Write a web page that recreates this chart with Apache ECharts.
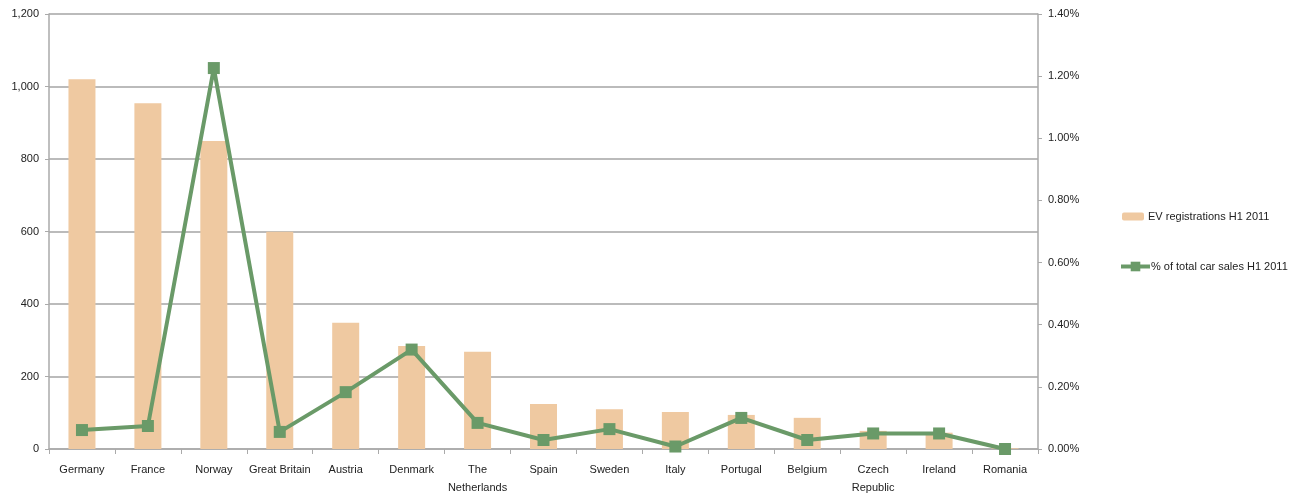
<!DOCTYPE html>
<html><head><meta charset="utf-8">
<script src="https://cdn.jsdelivr.net/npm/echarts@6/dist/echarts.min.js"></script>
<style>html,body{margin:0;padding:0;background:#fff}#c{width:1301px;height:497px}</style>
</head><body><div id="c"></div>
<script>
const categories = ['Germany','France','Norway','Great Britain','Austria','Denmark','The\nNetherlands','Spain','Sweden','Italy','Portugal','Belgium','Czech\nRepublic','Ireland','Romania'];
const evRegistrations = [1020, 954, 850, 599, 348, 284, 268, 124, 110, 102, 94, 86, 50, 45, 2];
const pctOfSales = [0.061, 0.074, 1.226, 0.055, 0.183, 0.32, 0.084, 0.029, 0.064, 0.008, 0.10, 0.029, 0.05, 0.05, 0.0];
const leftTicks = {min:0, max:1200, interval:200};
const rightTicks = {min:0, max:1.4, interval:0.2};

const FONT = "'Liberation Sans Narrow','Liberation Sans',Arial,sans-serif";
const chart = echarts.init(document.getElementById('c'));
chart.setOption({
  animation:false,
  textStyle:{fontFamily:FONT},
  grid:{left:49,right:263,top:14,bottom:48},
  legend:[{
    data:['EV registrations H1 2011'],
    left:1122, top:211, padding:0, itemWidth:22, itemHeight:8, itemGap:4,
    textStyle:{fontFamily:FONT,fontSize:11,color:'#222',padding:[0,0,0,-1]}
  },{
    data:['% of total car sales H1 2011'],
    left:1119, top:261, padding:0, itemWidth:29, itemHeight:12, itemGap:2,
    lineStyle:{width:4},
    textStyle:{fontFamily:FONT,fontSize:11,color:'#222',padding:[0,0,0,-4]}
  }],
  xAxis:{
    type:'category', data:categories,
    axisLine:{lineStyle:{color:'#aaa',width:1.5}},
    axisTick:{show:true,lineStyle:{color:'#aaa'},length:5},
    axisLabel:{color:'#222',fontSize:11,fontFamily:FONT,margin:12,interval:0,lineHeight:18}
  },
  yAxis:[{
    type:'value', min:leftTicks.min, max:leftTicks.max, interval:leftTicks.interval,
    axisLine:{show:true,lineStyle:{color:'#aaa',width:1.5}},
    axisTick:{show:true,lineStyle:{color:'#aaa'},length:4},
    splitLine:{lineStyle:{color:'#bbb',width:2}},
    axisLabel:{color:'#222',fontSize:11,fontFamily:FONT,margin:10,
      formatter:v=>v.toLocaleString('en-US')}
  },{
    type:'value', min:rightTicks.min, max:rightTicks.max, interval:rightTicks.interval,
    position:'right',
    axisLine:{show:true,lineStyle:{color:'#aaa',width:1.5}},
    axisTick:{show:true,lineStyle:{color:'#aaa'},length:4},
    splitLine:{show:false},
    axisLabel:{color:'#222',fontSize:11,fontFamily:FONT,margin:10,
      formatter:v=>v.toFixed(2)+'%'}
  }],
  series:[{
    name:'EV registrations H1 2011', type:'bar', data:evRegistrations,
    barWidth:27, itemStyle:{color:'#efc9a1'}, yAxisIndex:0
  },{
    name:'% of total car sales H1 2011', type:'line', data:pctOfSales, yAxisIndex:1,
    symbol:'rect', symbolSize:12,
    lineStyle:{color:'#6a9a68',width:4},
    itemStyle:{color:'#6a9a68'}
  }]
});
</script></body></html>
